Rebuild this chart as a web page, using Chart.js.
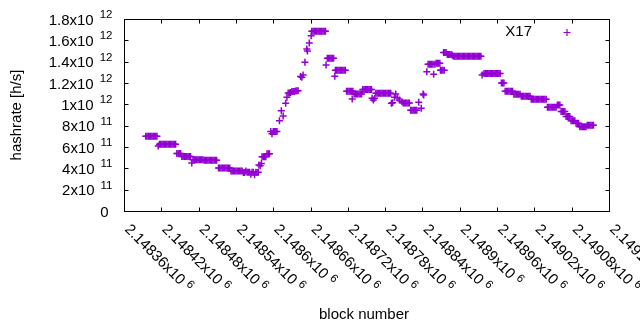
<!DOCTYPE html>
<html><head><meta charset="utf-8">
<script src="https://cdn.jsdelivr.net/npm/chart.js@4/dist/chart.umd.min.js"></script>
<style>html,body{margin:0;padding:0;background:#fff;}canvas{display:block;}</style>
</head><body>
<canvas id="c" width="640" height="330"></canvas>
<script>
// ---- data ----
const seriesLabel = 'X17';
const xTitle = 'block number';
const yTitle = 'hashrate [h/s]';
const xTicks = [2148360,2148420,2148480,2148540,2148600,2148660,2148720,2148780,2148840,2148900,2148960,2149020,2149080,2149140];
const yTicks = [0,2e11,4e11,6e11,8e11,1e12,1.2e12,1.4e12,1.6e12,1.8e12];
const blocks = [
2148395,2148397,2148399,2148401,2148403,2148405,2148407,2148409,2148411,2148413,
2148415,2148417,2148419,2148421,2148423,2148425,2148427,2148429,2148431,2148433,2148435,2148437,2148439,2148441,2148443,
2148445,2148447,2148449,2148451,
2148453,2148455,2148457,2148459,2148461,2148463,2148465,2148467,
2148469,2148471,2148473,2148475,2148477,2148479,2148481,2148483,2148485,2148487,
2148489,2148491,2148493,2148495,2148497,2148499,2148501,2148503,2148505,2148507,2148509,
2148512,2148514,2148516,2148518,2148520,2148522,2148524,2148526,2148528,2148530,
2148532,2148534,2148536,2148538,2148540,2148542,2148544,2148546,2148548,2148550,2148552,2148554,2148556,
2148558,2148560,2148562,2148564,2148566,2148568,2148570,2148572,2148574,2148576,
2148577,2148579,2148581,
2148582,2148584,2148586,2148588,
2148590,2148592,2148594,
2148596,2148598,2148600,2148602,2148604,2148606,
2148610,2148613,2148616,2148620,2148622,
2148624,2148626,2148628,2148630,2148632,2148634,2148636,2148638,2148640,
2148644,2148646,2148648,2148651,2148654,2148655,2148658,2148661,
2148662,2148664,2148666,2148668,2148670,2148672,2148674,2148676,2148678,2148680,2148682,2148684,
2148685,
2148687,2148689,2148691,2148693,2148695,2148697,
2148699,
2148700,2148702,2148704,2148706,2148708,2148710,2148712,2148714,2148716,
2148718,2148720,2148722,2148724,2148726,2148727,2148728,
2148730,2148732,2148734,2148736,2148738,2148740,2148742,
2148744,2148746,2148748,2148750,2148752,2148754,2148756,2148758,
2148759,2148761,2148763,
2148765,2148767,2148769,2148771,2148773,2148775,2148777,2148779,2148781,2148783,2148785,2148787,2148789,
2148790,2148792,2148795,2148797,2148800,2148803,2148807,
2148809,2148811,2148813,2148815,2148817,2148819,
2148821,2148823,2148825,2148827,2148829,2148831,
2148834,2148838,2148841,2148842,2148847,
2148849,2148851,2148853,2148855,2148857,2148860,
2148858,
2148862,2148864,2148866,2148868,
2148869,2148871,2148873,2148875,
2148874,2148876,2148878,2148880,2148882,2148884,2148886,2148888,
2148890,2148892,2148894,2148896,2148898,2148900,2148902,2148904,2148906,2148908,2148910,2148912,2148914,2148916,2148918,2148920,2148922,2148924,2148926,2148928,2148930,2148932,2148934,
2148936,
2148939,2148941,2148943,2148945,2148947,2148949,2148951,2148953,2148955,2148957,2148959,2148961,2148963,2148965,
2148967,2148969,2148971,
2148973,2148975,2148977,2148979,2148981,2148983,2148985,
2148987,2148989,2148991,2148993,2148995,2148997,
2148999,2149001,2149003,2149005,2149007,2149009,2149011,2149013,
2149015,2149017,2149019,2149021,2149023,2149025,2149027,2149029,2149031,2149033,2149035,2149037,2149039,
2149041,2149043,2149045,2149047,2149049,2149051,2149053,2149055,
2149057,2149059,2149061,
2149063,2149065,2149067,2149069,
2149071,2149073,2149075,2149077,
2149079,2149081,2149083,2149085,
2149087,2149089,2149091,
2149093,2149095,2149097,2149099,2149101,2149103,
2149105,2149107,2149109,2149111,2149113,2149115
];
// hashrate in units of 1e11 h/s, one value per block above
const hashrateE11 = [
7.0,7.0,7.0,7.0,7.0,7.0,7.0,7.0,7.0,7.0,
6.1,6.25,6.25,6.25,6.25,6.25,6.25,6.25,6.25,6.25,6.25,6.25,6.25,6.25,6.25,
5.4,5.4,5.4,5.4,
5.1,5.1,5.1,5.1,5.1,5.1,5.1,5.1,
4.5,4.8,4.8,4.8,4.8,4.8,4.8,4.8,4.8,4.8,
4.75,4.75,4.75,4.75,4.75,4.75,4.75,4.75,4.75,4.75,4.75,
4.02,4.02,4.02,4.02,4.02,4.02,4.02,4.02,4.02,4.02,
3.75,3.75,3.75,3.75,3.75,3.75,3.75,3.75,3.75,3.75,3.6,3.6,3.75,
3.63,3.63,3.63,3.45,3.63,3.63,3.4,3.63,3.6,3.63,
4.32,4.25,4.45,
5.08,5.08,5.08,5.08,
5.37,5.37,5.37,
7.45,7.25,7.45,7.45,7.45,7.45,
8.46,9.4,8.9,10.1,10.66,
11.06,11.06,11.1,11.2,11.2,11.2,11.25,11.28,11.28,
12.6,12.53,12.75,13.94,15.19,15.0,15.75,16.43,
16.85,16.85,16.85,16.85,16.85,16.85,16.85,16.85,16.85,16.85,16.85,16.85,
13.69,
14.31,14.31,14.31,14.31,14.31,14.31,
12.63,
13.19,13.19,13.19,13.19,13.19,13.19,13.19,13.19,13.19,
11.22,11.22,11.22,11.22,11.22,10.5,11.22,
10.97,10.97,10.97,10.97,10.97,10.97,10.97,
11.4,11.4,11.4,11.4,11.4,11.4,11.4,11.4,
10.56,10.4,10.56,
11.03,11.03,11.03,11.03,11.03,11.03,11.03,11.03,11.03,11.03,11.03,11.03,11.03,
10.1,10.15,10.66,10.97,10.6,10.4,10.25,
10.12,10.12,10.12,10.12,10.12,10.12,
9.44,9.44,9.44,9.44,9.44,9.44,
10.19,9.63,10.97,10.87,13.06,
13.75,13.75,13.75,13.75,13.75,13.75,
12.81,
13.84,13.84,13.84,13.84,
13.19,13.19,13.19,13.19,
14.87,14.87,14.87,14.67,14.67,14.67,14.67,14.6,
14.5,14.5,14.5,14.5,14.5,14.5,14.5,14.5,14.5,14.5,14.5,14.5,14.5,14.5,14.5,14.5,14.5,14.5,14.5,14.5,14.5,14.5,14.5,
12.75,
12.9,12.9,12.9,12.9,12.9,12.9,12.9,12.9,12.9,12.9,12.9,12.9,12.9,12.9,
12.0,12.0,12.0,
11.22,11.22,11.22,11.22,11.22,11.22,11.22,
10.94,10.94,10.94,10.94,10.94,10.94,
10.75,10.75,10.75,10.75,10.75,10.75,10.75,10.75,
10.47,10.47,10.47,10.47,10.47,10.47,10.47,10.47,10.47,10.47,10.47,10.47,10.47,
9.72,9.72,9.72,9.72,9.72,9.72,9.72,9.72,
9.94,9.94,9.94,
9.32,9.32,9.32,9.32,
8.85,8.85,8.85,8.85,
8.45,8.45,8.45,8.45,
8.22,8.22,8.22,
7.9,7.9,7.9,7.9,7.9,7.9,
8.03,8.03,8.03,8.03,8.03,8.03
];
// ---- end data ----

const COLOR = '#9400D3';
const FONT = '"Liberation Sans", Arial, sans-serif';
const points = blocks.map((b, i) => ({x: b, y: hashrateE11[i] * 1e11}));

function sciParts(v) {
  if (v === 0) return ['0', ''];
  const e = Math.floor(Math.log10(v) + 1e-9);
  const m = parseFloat((v / Math.pow(10, e)).toPrecision(6));
  return [m + 'x10', String(e)];
}

const gnuplotAxes = {
  id: 'gnuplotAxes',
  afterDatasetsDraw(chart) {
    const {ctx, chartArea: a, scales: {x, y}} = chart;
    ctx.save();
    ctx.strokeStyle = '#000';
    ctx.lineWidth = 1;
    const L = a.left + 0.5, R = a.right + 0.5, T = a.top + 0.5, B = a.bottom + 0.5;
    ctx.beginPath();
    yTicks.forEach(v => {
      const py = Math.round(y.getPixelForValue(v)) + 0.5;
      ctx.moveTo(L, py); ctx.lineTo(L + 4, py);
      ctx.moveTo(R, py); ctx.lineTo(R - 4, py);
    });
    xTicks.forEach(v => {
      const px = Math.round(x.getPixelForValue(v)) + 0.5;
      ctx.moveTo(px, B); ctx.lineTo(px, B - 4);
      ctx.moveTo(px, T); ctx.lineTo(px, T + 4);
    });
    ctx.stroke();
    ctx.strokeRect(L, T, R - L, B - T);

    ctx.fillStyle = '#000';
    // y tick labels
    yTicks.forEach(v => {
      const py = y.getPixelForValue(v);
      const [base, sup] = sciParts(v);
      ctx.textBaseline = 'alphabetic';
      ctx.textAlign = 'left';
      if (!sup) {
        ctx.font = '15px ' + FONT;
        ctx.textAlign = 'right';
        ctx.fillText(base, 108.5, py + 5.5);
        return;
      }
      ctx.font = '11.5px ' + FONT;
      const sw = ctx.measureText(sup).width;
      const supLeft = 112.5 - sw;
      ctx.fillText(sup, supLeft, py - 1);
      ctx.font = '15px ' + FONT;
      ctx.textAlign = 'right';
      ctx.fillText(base, supLeft - 6, py + 5.5);
    });
    // x tick labels, rotated
    xTicks.forEach(v => {
      const px = x.getPixelForValue(v);
      const [base, sup] = sciParts(v);
      ctx.save();
      ctx.translate(px, a.bottom + 19);
      ctx.rotate(Math.PI / 4);
      ctx.textAlign = 'left';
      ctx.textBaseline = 'alphabetic';
      ctx.font = '15px ' + FONT;
      ctx.fillText(base, 0, 0);
      const w = ctx.measureText(base).width;
      ctx.font = '11.5px ' + FONT;
      ctx.fillText(sup, w + 4, -5);
      ctx.restore();
    });
    // axis titles
    ctx.font = '15px ' + FONT;
    ctx.textAlign = 'center';
    ctx.textBaseline = 'middle';
    ctx.fillText(xTitle, 364, 315);
    ctx.save();
    ctx.translate(17, 115);
    ctx.rotate(-Math.PI / 2);
    ctx.fillText(yTitle, 0, 0);
    ctx.restore();
    // legend
    ctx.textAlign = 'right';
    ctx.fillText(seriesLabel, 532, 32);
    ctx.strokeStyle = COLOR;
    ctx.lineWidth = 1.2;
    ctx.beginPath();
    ctx.moveTo(563.5, 32.5); ctx.lineTo(570.5, 32.5);
    ctx.moveTo(567, 29); ctx.lineTo(567, 36);
    ctx.stroke();
    ctx.restore();
  }
};

new Chart(document.getElementById('c'), {
  type: 'scatter',
  data: {
    datasets: [{
      label: seriesLabel,
      data: points,
      pointStyle: 'cross',
      pointRadius: 3.5,
      pointHoverRadius: 3.5,
      borderColor: COLOR,
      backgroundColor: COLOR,
      pointBorderWidth: 1.5,
      showLine: false
    }]
  },
  options: {
    responsive: false,
    animation: false,
    devicePixelRatio: 1,
    layout: {padding: {left: 124, top: 19, right: 31, bottom: 119}},
    scales: {
      x: {type: 'linear', min: 2148360, max: 2149140, display: false},
      y: {type: 'linear', min: 0, max: 1.8e12, display: false}
    },
    plugins: {legend: {display: false}, tooltip: {enabled: false}}
  },
  plugins: [gnuplotAxes]
});
</script>
</body></html>
